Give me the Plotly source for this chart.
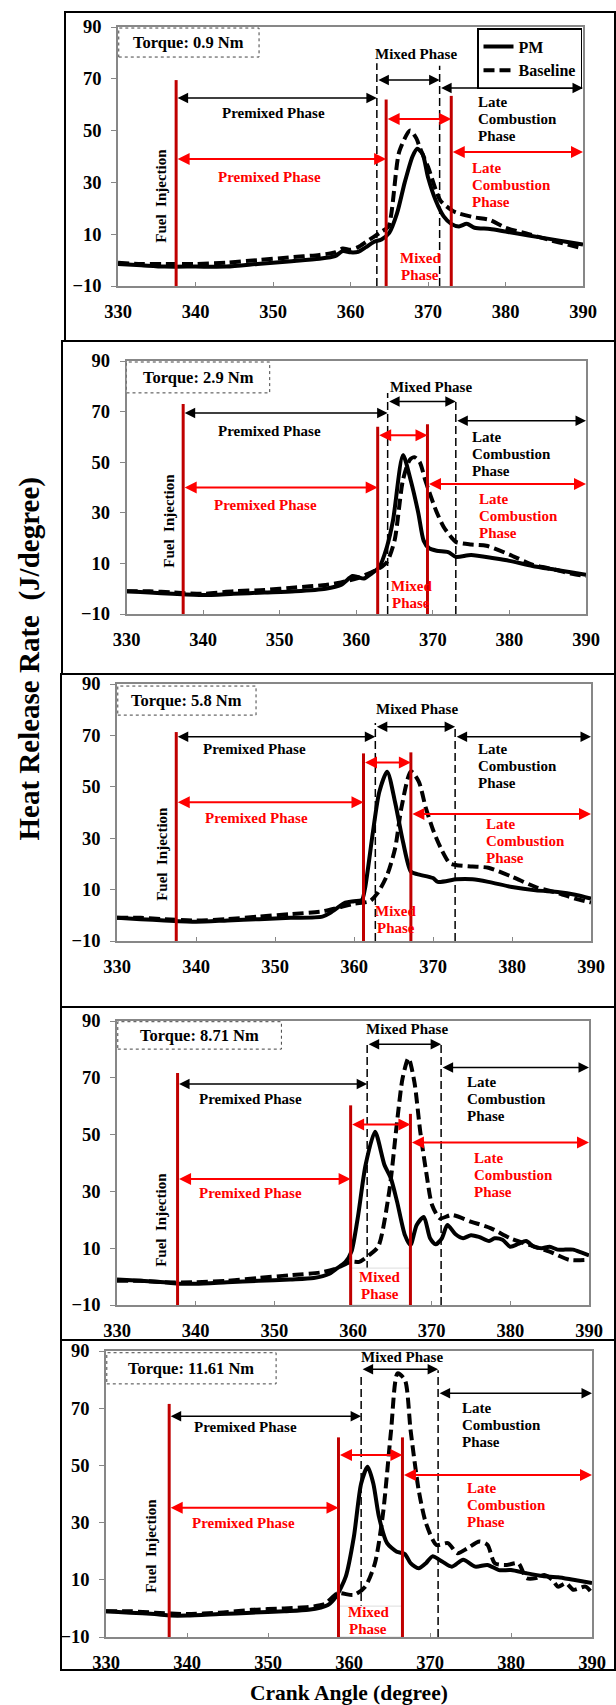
import plotly.graph_objects as go

W, H = 616, 1705
FONT = "Liberation Serif"
RED_LINE = "#C00000"
RED = "#FF0000"
AXC = "#878787"

# ------------------------------------------------------------------ data
torque_labels = ["Torque: 0.9 Nm", "Torque: 2.9 Nm", "Torque: 5.8 Nm",
                 "Torque: 8.71 Nm", "Torque: 11.61 Nm"]
crank_ticks = [330, 340, 350, 360, 370, 380, 390]
hrr_ticks = [-10, 10, 30, 50, 70, 90]

pm1_angle = [330, 333, 336, 340, 344, 348, 352, 356, 358, 359, 360, 361, 362, 363, 364, 365, 366,
             367, 368, 368.6, 369.3, 370, 371, 372, 373, 374, 375, 376, 378, 380, 383, 386, 388, 390]
pm1_hrr = [-1.5, -2, -2.5, -2.5, -2.5, -1.5, -0.5, 0.5, 1.5, 3.5, 3, 3.2, 5, 7, 8, 10.5, 18,
           30, 40, 43, 41, 32, 23, 17, 14, 13, 14, 12.5, 12, 11, 9.5, 8, 7, 6]
base1_angle = [330, 333, 336, 340, 344, 348, 352, 356, 358, 359, 360, 361, 362, 363, 364, 364.9,
               366.3, 367.7, 368.5, 369, 370, 371.6, 373.2, 374, 376, 378, 380, 383, 386, 388, 390]
base1_hrr = [-1, -1.5, -1.5, -1.5, -1, 0, 1, 2, 3, 4.5, 4, 5, 7, 9, 11, 13,
             42, 50, 47, 43, 36, 23, 19, 18, 16.5, 15.5, 12.5, 10, 7.5, 6, 4.5]

pm2_angle = [330, 333, 336, 340, 344, 348, 352, 356, 358, 359.5, 360.2, 361, 362, 363, 364, 364.8,
             366.1, 367.1, 368.1, 368.8, 369.5, 370.5, 372, 373, 375, 378, 380, 383, 386, 388, 390]
pm2_hrr = [-1, -1.5, -2, -2.5, -2, -1.5, -1, 0, 1.5, 5, 4.6, 4, 6, 8.5, 16.5, 27,
           52.8, 43, 30, 19, 16, 15, 14.5, 12.6, 13.3, 12, 11, 9, 7.5, 6.5, 5.5]
base2_angle = [330, 333, 336, 340, 344, 348, 352, 356, 358, 360, 362, 363, 364, 365, 366.1, 367,
               367.6, 368.3, 369, 370.4, 371.4, 372.5, 373, 375, 377, 380, 383, 386, 388, 390]
base2_hrr = [-1, -1, -1.5, -2, -1, -0.5, 0.5, 1.5, 2.5, 4, 6.5, 8, 10.5, 19, 43, 51,
             52, 50, 43, 31, 24.5, 20, 18.5, 17.5, 17, 13.5, 9.5, 7.5, 6, 5]

pm3_angle = [330, 333, 336, 340, 344, 348, 352, 356, 357, 358.9, 360, 361, 361.4, 362.4, 363.2,
             364.2, 365.2, 366.2, 367.2, 368, 370, 370.6, 373, 375, 377, 380, 383, 386, 388, 390]
pm3_hrr = [-1, -1.5, -2, -2.5, -2, -1.5, -1, -0.5, 1, 4.9, 5.5, 6, 10.6, 32.5, 48,
           55.9, 44, 28.6, 17, 16, 14.5, 13, 14, 14, 13, 11, 9.7, 9, 8, 6.5]
base3_angle = [330, 333, 336, 340, 344, 348, 352, 356, 358, 360, 362, 363, 364.2, 365.2, 366,
               367.2, 368.2, 369.1, 370.1, 371.1, 372.1, 373, 375, 377, 380, 383, 386, 388, 390]
base3_hrr = [-1, -1, -1.5, -2, -1.5, -0.5, 0.5, 1.5, 3, 4.5, 5.5, 8.7, 15.7, 26, 41.8,
             56, 52, 41.7, 32.5, 25.4, 20.3, 19.5, 19, 18.5, 15, 11, 8.5, 6.5, 5]

pm4_angle = [330, 333, 336, 338, 340, 344, 348, 352, 355, 357, 358, 359, 359.8, 360.6, 361.6,
             362.8, 364, 364.8, 365.6, 366.6, 367.3, 368.1, 369, 369.8, 370.5, 371.3, 372, 373,
             374, 375, 376, 377.3, 378, 379, 380, 381, 382, 383, 384, 385, 386, 387, 388, 389, 390]
pm4_hrr = [-1, -1.5, -2, -2.5, -2.5, -2, -1.5, -1, -0.5, 1, 3, 5, 8.8, 20.6, 39.3,
           51, 39.3, 34.7, 26.4, 14.6, 11.1, 18.2, 21, 13.5, 11.4, 13.5, 18.2, 15,
           13.5, 14.6, 14, 12.5, 13.5, 13, 10.5, 11.5, 12.5, 10.5, 10, 10.5, 9.5, 9.5, 9.5, 8.5, 7.5]
base4_angle = [330, 333, 336, 340, 344, 348, 352, 356, 358, 359.7, 360.8, 362.07, 363.2, 364.6,
               365.6, 366.3, 367.05, 367.8, 368.55, 369.3, 370.05, 371.05, 372.55, 375.05,
               377.55, 380, 382.5, 385, 387.5, 390]
base4_hrr = [-1.5, -1.5, -2, -2, -1.5, -0.5, 0.5, 1.5, 3, 5.2, 5.2, 7.6, 10.5, 29.9,
             54.5, 69.8, 76.9, 68.6, 51, 36.9, 25.2, 20.5, 21.7, 19.3,
             17, 13.5, 11.1, 8.8, 5.9, 5.9]

pm5_angle = [330, 333, 336, 338, 340, 344, 348, 352, 355, 357.4, 358.4, 359.6, 360.6, 361.5,
             362.3, 363, 363.7, 364.7, 365.9, 366.9, 367.6, 368.6, 369.5, 370.3, 371.5, 372.7,
             374.1, 375.6, 377.1, 378.5, 380, 381.9, 383.9, 385.8, 387.7, 390]
pm5_hrr = [-1, -1.5, -2, -2.5, -2.5, -2, -1.5, -1, -0.5, 1.2, 4.1, 11.1, 25, 43.7,
           49.5, 43.7, 32, 22.8, 19.8, 19, 15.8, 14, 15.8, 18.2, 16.4, 14.6,
           17, 14.6, 15.2, 13.4, 13.4, 12.3, 11.3, 10.9, 10, 8.9]
base5_angle = [330, 333, 336, 340, 344, 348, 352, 355, 357, 358.6, 360.6, 362, 363.2, 364.2,
               365.2, 366, 366.9, 367.6, 368.6, 369.5, 370.8, 372.2, 373.4, 374.6, 376.1, 377.1,
               378, 379.5, 380.9, 381.9, 383.1, 384.1, 385.1, 385.8, 386.8, 387.7, 389.2, 390]
base5_hrr = [-1, -1, -1.5, -2, -1.5, -0.5, 0, 0.5, 1.5, 5.3, 4.7, 7.6, 15.8, 33.2,
             62.4, 82.2, 79.9, 62.4, 41.4, 29.8, 22.2, 22.8, 19.3, 21, 23.4, 22.2,
             15.8, 15.2, 15.8, 10.6, 10.6, 11.7, 10, 7.6, 8.8, 6.5, 7.6, 5.3]

# phase boundaries (crank angle, degree)
fuel_injection = [337.5, 337.4, 337.5, 337.7, 337.8]
base_mixed_start = [363.4, 364.1, 362.7, 361.8, 361.5]
base_mixed_end = [371.5, 373.0, 372.8, 371.2, 371.0]
pm_mixed_start = [364.6, 362.8, 361.2, 359.7, 358.7]
pm_mixed_end = [373.0, 369.3, 367.2, 367.3, 366.6]

pm_angle = [pm1_angle, pm2_angle, pm3_angle, pm4_angle, pm5_angle]
pm_hrr = [pm1_hrr, pm2_hrr, pm3_hrr, pm4_hrr, pm5_hrr]
base_angle = [base1_angle, base2_angle, base3_angle, base4_angle, base5_angle]
base_hrr = [base1_hrr, base2_hrr, base3_hrr, base4_hrr, base5_hrr]

# ------------------------------------------------------------------ geometry / styling
plot_px = [(118, 583, 27, 286), (126.5, 586, 361, 614), (117, 591, 684, 941),
           (117, 589, 1021, 1305), (106, 592, 1351, 1637)]
frame_px = [(65, 615, 12, 341), (62, 615, 341, 674), (61, 615, 674, 1007),
            (61, 615, 1007, 1340), (61, 615, 1340, 1670)]

pos = [
    dict(fi_top=69.5, bd_top=(76, 75), rl_top=(62, 63.4), torque_box=(330.1, 348.2, 78.4, 89.6),
         a_pre=62.6, a_mix=69.5, a_late=66.4, t_pre=(350, 56.7), t_mix=(368.4, 79.6), t_late=(376.2, 61),
         r_pre=39, r_mix=54.5, r_late=41.7, rt_pre=(349.5, 32), rt_mix=(369, 0.8), rt_late=(375.4, 35.5),
         fi_text=(335.6, 25), white=None),
    dict(fi_top=73, bd_top=(77.4, 73.8), rl_top=(64, 65), torque_box=(330.0, 348.7, 77.4, 89.6),
         a_pre=69.4, a_mix=74, a_late=66.4, t_pre=(348.7, 62.3), t_mix=(369.7, 79.7), t_late=(374.9, 60),
         r_pre=40, r_mix=60.7, r_late=41.4, rt_pre=(348.2, 33), rt_mix=(367.2, 1), rt_late=(375.8, 35.5),
         fi_text=(335.6, 27), white=None),
    dict(fi_top=71.3, bd_top=(74.8, 74), rl_top=(63, 63.4), torque_box=(330.1, 347.6, 77.9, 89.2),
         a_pre=69.5, a_mix=73.4, a_late=69.5, t_pre=(347.4, 64.6), t_mix=(368, 80.3), t_late=(375.5, 64.6),
         r_pre=44, r_mix=59.5, r_late=39.4, rt_pre=(347.6, 38), rt_mix=(365.3, 1.7), rt_late=(376.5, 35.5),
         fi_text=(335.6, 24), white=None),
    dict(fi_top=71.7, bd_top=(82.3, 82), rl_top=(60.3, 57.3), torque_box=(330.1, 350.9, 80.1, 89.75),
         a_pre=67.8, a_mix=81.8, a_late=73.6, t_pre=(347, 62.5), t_mix=(366.9, 87.2), t_late=(374.2, 68.4),
         r_pre=34.4, r_mix=53.6, r_late=47.2, rt_pre=(347, 29.5), rt_mix=(363.4, -0.2), rt_late=(375.1, 41.8),
         fi_text=(335.6, 20), white=3.0),
    dict(fi_top=71.5, bd_top=(81.6, 83.3), rl_top=(59.8, 59.8), torque_box=(330.1, 351, 78.5, 89.4),
         a_pre=67.2, a_mix=83.6, a_late=75.2, t_pre=(347.2, 63.4), t_mix=(366.6, 87.8), t_late=(373.7, 70),
         r_pre=35.2, r_mix=53.6, r_late=46.6, rt_pre=(347, 30), rt_mix=(362.4, -1.1), rt_late=(374.3, 42),
         fi_text=(335.6, 22), white=0.8),
]

LINE_STEP = 17  # px between lines of multi-line labels

fig = go.Figure()
shapes, annotations = [], []


def bold_font(size, color="black"):
    return dict(family=FONT, size=size, color=color, weight="bold")


def text_lines(xn, yn, x, y, lines, color, xanchor="left", size=15):
    for k, ln in enumerate(lines):
        annotations.append(dict(xref=xn, yref=yn, x=x, y=y, text=ln, showarrow=False,
                                xanchor=xanchor, yanchor="middle", yshift=-LINE_STEP * k,
                                font=bold_font(size, color)))


def darrow(xn, yn, x0, x1, y, color, width, size):
    annotations.append(dict(xref=xn, yref=yn, axref=xn, ayref=yn, x=x1, y=y, ax=x0, ay=y,
                            text="", showarrow=True, arrowhead=2, arrowside="end+start",
                            arrowsize=size, arrowwidth=width, arrowcolor=color,
                            standoff=0, startstandoff=0))


layout_axes = {}
for i in range(5):
    n = "" if i == 0 else str(i + 1)
    xn, yn = "x" + n, "y" + n
    x0, x1, y0, y1 = plot_px[i]
    common = dict(showline=True, linecolor=AXC, linewidth=1.5, mirror=True, showgrid=False,
                  zeroline=False, tickcolor=AXC, tickwidth=1.2, tickfont=bold_font(18.5),
                  automargin=False)
    layout_axes["xaxis" + n] = dict(domain=[x0 / W, x1 / W], range=[330, 390], tickvals=crank_ticks,
                                    ticks="inside", ticklen=4, anchor=yn, ticklabelstandoff=8, **common)
    layout_axes["yaxis" + n] = dict(domain=[1 - y1 / H, 1 - y0 / H], range=[-10, 90], tickvals=hrr_ticks,
                                    ticks="outside", ticklen=5, anchor=xn, ticklabelstandoff=6, **common)

    fig.add_trace(go.Scatter(x=pm_angle[i], y=pm_hrr[i], mode="lines", name="PM",
                             line=dict(color="black", width=4, shape="spline", smoothing=0.7),
                             xaxis=xn, yaxis=yn, showlegend=(i == 0), legendrank=1))
    fig.add_trace(go.Scatter(x=base_angle[i], y=base_hrr[i], mode="lines", name="Baseline",
                             line=dict(color="black", width=4, dash="11px,5px", shape="spline",
                                       smoothing=0.7),
                             xaxis=xn, yaxis=yn, showlegend=(i == 0), legendrank=2))

    p = pos[i]
    # panel frame
    fx0, fx1, fy0, fy1 = frame_px[i]
    shapes.append(dict(type="rect", xref="paper", yref="paper", x0=fx0 / W, x1=fx1 / W,
                       y0=1 - fy1 / H, y1=1 - fy0 / H, line=dict(color="black", width=2)))
    # torque box
    tb = p["torque_box"]
    shapes.append(dict(type="rect", xref=xn, yref=yn, x0=tb[0], x1=tb[1], y0=tb[2], y1=tb[3],
                       line=dict(color="#444", width=1, dash="dot"), fillcolor="white", layer="above"))
    annotations.append(dict(xref=xn, yref=yn, x=(tb[0] + tb[1]) / 2, y=(tb[2] + tb[3]) / 2,
                            text=torque_labels[i], showarrow=False, font=bold_font(16.5)))
    # black dashed boundaries (Baseline)
    for bx, bt in zip((base_mixed_start[i], base_mixed_end[i]), p["bd_top"]):
        shapes.append(dict(type="line", xref=xn, yref=yn, x0=bx, x1=bx, y0=-10, y1=bt,
                           line=dict(color="black", width=1.5, dash="8px,4px"), layer="above"))
    # white box behind red "Mixed Phase"
    if p["white"] is not None:
        shapes.append(dict(type="rect", xref=xn, yref=yn, x0=pm_mixed_start[i], x1=pm_mixed_end[i],
                           y0=-10, y1=p["white"], fillcolor="white",
                           line=dict(color="#dddddd", width=1), layer="above"))
    # red solid boundaries (PM) + fuel injection
    shapes.append(dict(type="line", xref=xn, yref=yn, x0=fuel_injection[i], x1=fuel_injection[i],
                       y0=-10, y1=p["fi_top"], line=dict(color=RED_LINE, width=3), layer="above"))
    for rx, rt in zip((pm_mixed_start[i], pm_mixed_end[i]), p["rl_top"]):
        shapes.append(dict(type="line", xref=xn, yref=yn, x0=rx, x1=rx, y0=-10, y1=rt,
                           line=dict(color=RED_LINE, width=3), layer="above"))

    # black arrows (Baseline phases)
    darrow(xn, yn, fuel_injection[i], base_mixed_start[i], p["a_pre"], "black", 1.5, 1.4)
    darrow(xn, yn, base_mixed_start[i], base_mixed_end[i], p["a_mix"], "black", 1.5, 1.4)
    darrow(xn, yn, base_mixed_end[i], 390, p["a_late"], "black", 1.5, 1.4)
    # red arrows (PM phases)
    darrow(xn, yn, fuel_injection[i], pm_mixed_start[i], p["r_pre"], RED, 2, 1.2)
    darrow(xn, yn, pm_mixed_start[i], pm_mixed_end[i], p["r_mix"], RED, 2, 1.2)
    darrow(xn, yn, pm_mixed_end[i], 390, p["r_late"], RED, 2, 1.2)

    # labels
    text_lines(xn, yn, *p["t_pre"], ["Premixed Phase"], "black", "center")
    text_lines(xn, yn, *p["t_mix"], ["Mixed Phase"], "black", "center")
    text_lines(xn, yn, *p["t_late"], ["Late", "Combustion", "Phase"], "black", "left")
    text_lines(xn, yn, *p["rt_pre"], ["Premixed Phase"], RED, "center")
    text_lines(xn, yn, *p["rt_mix"], ["Mixed", "Phase"], RED, "center")
    text_lines(xn, yn, *p["rt_late"], ["Late", "Combustion", "Phase"], RED, "left")
    annotations.append(dict(xref=xn, yref=yn, x=p["fi_text"][0], y=p["fi_text"][1],
                            text="Fuel  Injection", textangle=-90, showarrow=False,
                            font=bold_font(15)))

# shared axis titles
annotations.append(dict(xref="paper", yref="paper", x=29 / W, y=1 - 843 / H,
                        xanchor="center", yanchor="bottom",
                        text="Heat Release Rate  (J/degree)", textangle=-90, showarrow=False,
                        font=bold_font(29)))
annotations.append(dict(xref="paper", yref="paper", x=349 / W, y=1 - 1693 / H,
                        xanchor="center", yanchor="middle",
                        text="Crank Angle (degree)", showarrow=False, font=bold_font(21.5)))

fig.update_layout(
    width=W, height=H, margin=dict(l=0, r=0, t=0, b=0, autoexpand=False),
    paper_bgcolor="white", plot_bgcolor="white",
    font=dict(family=FONT, color="black"),
    shapes=shapes, annotations=annotations,
    legend=dict(x=582 / W, y=1 - 28 / H, xanchor="right", yanchor="top",
                bordercolor="black", borderwidth=1.5, bgcolor="white",
                font=bold_font(16), tracegroupgap=0, itemwidth=30),
    **layout_axes,
)

fig.write_html("out.html")
